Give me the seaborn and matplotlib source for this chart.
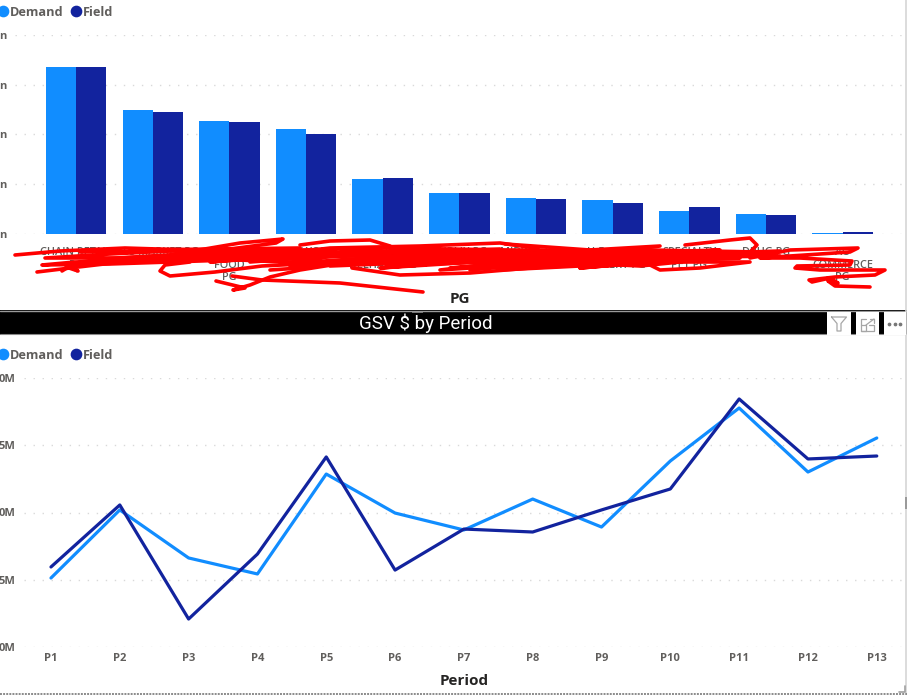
import matplotlib
matplotlib.use("Agg")
import matplotlib.pyplot as plt
from matplotlib.lines import Line2D
from matplotlib.patches import Rectangle
import pandas as pd
import seaborn as sns

# ---- data ----
pg_labels = ["CHAIN RETAIL\nPG", "MASS MARKET PG", "KROGER\nFOOD\nPG", "NEW YORK\nPG",
             "AHOLD\nDELHAIZE PG", "PUBLIX PG", "MIDWEST MM", "H.E. BUTT\nGROCERY PG",
             "SPECIALTY\nPET PG", "DRUG PG", "AO\nCOMMERCE\nPG"]
pg_demand = [167.4, 124.0, 113.0, 104.9, 55.2, 40.4, 35.3, 33.3, 22.5, 19.5, 1.0]
pg_field = [168.1, 122.7, 112.3, 100.5, 55.5, 41.0, 35.0, 30.9, 26.9, 18.5, 1.4]
pg_ticks = [0, 50, 100, 150, 200]
pg_ticklabels = ["n", "n", "n", "n", "n"]

periods = ["P1", "P2", "P3", "P4", "P5", "P6", "P7", "P8", "P9", "P10", "P11", "P12", "P13"]
period_demand = [15.13, 20.19, 16.62, 15.43, 22.86, 19.96, 18.70, 21.00, 18.92, 23.83, 27.77, 23.01, 25.54]
period_field = [15.95, 20.56, 12.08, 16.91, 24.13, 15.72, 18.77, 18.55, 20.19, 21.75, 28.44, 23.98, 24.20]
period_ticks = [10, 15, 20, 25, 30]
period_ticklabels = ["0M", "5M", "0M", "5M", "0M"]

series_names = ["Demand", "Field"]
series_colors = ["#118DFF", "#12239E"]
chart_title = "GSV $ by Period"

# ---- styles ----
W, H = 907, 695
sns.set_theme(style="white")
plt.rcParams["font.family"] = ["Open Sans", "DejaVu Sans"]
TICK = "#605E5C"
TITLE = "#252423"
GRID = "#D9D9D9"
palette = dict(zip(series_names, series_colors))


def axes_rect(x0, y0, x1, y1):
    return [x0 / W, 1 - y1 / H, (x1 - x0) / W, (y1 - y0) / H]


fig = plt.figure(figsize=(W / 100, H / 100), dpi=100, facecolor="white")

# ---- top panel ----
ax_top = fig.add_axes(axes_rect(14.8, 35, 904.8, 233.5))
df_pg = pd.DataFrame({
    "PG": pg_labels * 2,
    "Series": [series_names[0]] * len(pg_labels) + [series_names[1]] * len(pg_labels),
    "Value": pg_demand + pg_field,
})
sns.barplot(data=df_pg, x="PG", y="Value", hue="Series", palette=palette, hue_order=series_names,
            width=0.79, gap=0, saturation=1, errorbar=None, legend=False, linewidth=0, ax=ax_top, zorder=3)
ax_top.set_xlim(-0.80, 10.81)
ax_top.set_ylim(0, 200)
ax_top.set_yticks(pg_ticks, pg_ticklabels)
ax_top.tick_params(axis="y", length=0, pad=5.8, labelsize=8, labelcolor=TICK)
ax_top.tick_params(axis="x", length=0, pad=10, labelsize=7.8, labelcolor=TICK)
for t in ax_top.get_yticklabels():
    t.set_fontweight("bold")
for t in ax_top.get_xticklabels():
    t.set_fontweight("semibold")
    t.set_linespacing(1.18)
ax_top.set_ylabel("")
ax_top.set_xlabel("PG", fontsize=11, fontweight="bold", color=TITLE, va="center")
ax_top.xaxis.set_label_coords(0.5, -(299 - 233.5) / 198.5)

# ---- bottom panel ----
ax_low = fig.add_axes(axes_rect(24, 378, 905, 647))
df_period = pd.DataFrame({
    "Period": periods * 2,
    "Series": [series_names[0]] * len(periods) + [series_names[1]] * len(periods),
    "Value": period_demand + period_field,
})
sns.lineplot(data=df_period, x="Period", y="Value", hue="Series", palette=palette, hue_order=series_names,
             sort=False, errorbar=None, legend=False, linewidth=2.3, ax=ax_low, zorder=3)
ax_low.set_xlim(-0.392, 12.41)
ax_low.set_ylim(10, 30)
ax_low.set_yticks(period_ticks, period_ticklabels)
ax_low.tick_params(axis="y", length=0, pad=6.2, labelsize=8, labelcolor=TICK)
ax_low.tick_params(axis="x", length=0, pad=4.5, labelsize=8, labelcolor=TICK)
for t in ax_low.get_yticklabels() + ax_low.get_xticklabels():
    t.set_fontweight("bold")
ax_low.set_ylabel("")
ax_low.set_xlabel("Period", fontsize=11, fontweight="bold", color=TITLE, va="center")
ax_low.xaxis.set_label_coords(0.5, -(681 - 647) / 269)

for ax in (ax_top, ax_low):
    sns.despine(ax=ax, left=True, bottom=True, top=True, right=True)
    ax.set_axisbelow(True)
    ax.yaxis.grid(True, color=GRID, linewidth=1.0, linestyle=(0, (1, 5.5)))
    ax.xaxis.grid(False)
    ax.patch.set_alpha(0)

# ---- legends ----
for ax, centre_y in ((ax_top, 12), (ax_low, 355)):
    handles = [Line2D([], [], linestyle="none", marker="o", markersize=7.4, color=c, label=n)
               for n, c in zip(series_names, series_colors)]
    leg = ax.legend(handles=handles, ncol=2, frameon=False, loc="center left",
                    bbox_to_anchor=(-2.5 / W, 1 - centre_y / H), bbox_transform=fig.transFigure,
                    borderpad=0, borderaxespad=0, handlelength=0.85, handletextpad=0.1,
                    columnspacing=0.6, prop={"family": "Open Sans", "weight": "bold", "size": 9.2})
    for t in leg.get_texts():
        t.set_color(TICK)

# ---- screenshot chrome and redaction, drawn in pixel coordinates ----
ov = fig.add_axes([0, 0, 1, 1], zorder=10)
ov.set_xlim(0, W)
ov.set_ylim(H, 0)
ov.axis("off")
ov.patch.set_alpha(0)

ov.add_patch(Rectangle((0, 310), W, 24.5, facecolor="#000000", edgecolor="none"))
ov.plot([0, W], [310.5, 310.5], color="#9A9A9A", lw=1)
ov.plot([0, W], [334.3, 334.3], color="#8A8A8A", lw=0.8)
ov.add_patch(Rectangle((412, 311.5), 11, 1.5, facecolor="#777777", edgecolor="none", zorder=5))
for x0, x1 in ((827, 851), (856, 879), (884, 906)):
    ov.add_patch(Rectangle((x0, 311.5), x1 - x0, 23, facecolor="white", edgecolor="none", zorder=4))
ov.text(426, 323.5, chart_title, color="white", fontsize=13.5, family="Roboto", ha="center", va="center")
ICON = "#A6A6A6"
ov.plot([831.5, 846.5, 841, 841, 837, 837, 831.5], [317, 317, 323.5, 331, 331, 323.5, 317],
        color=ICON, lw=0.9, zorder=6)
ov.plot([866, 860.5, 860.5, 874, 874, 869], [319, 319, 331, 331, 325, 325], color=ICON, lw=0.9, zorder=6)
ov.plot([860.5, 866, 866, 860.5], [325, 325, 331, 331], color=ICON, lw=0.9, zorder=6)
ov.plot([866, 874], [325, 319], color=ICON, lw=0.9, zorder=6)
ov.plot([870, 874, 874], [319, 319, 323], color=ICON, lw=0.9, zorder=6)
ov.plot([889, 894.5, 900], [323.5, 323.5, 323.5], linestyle="none", marker="o", markersize=1.7, color="#777777", zorder=6)

ov.plot([906, 906], [0, 695], color="#D6D6D6", lw=1.2)
ov.add_patch(Rectangle((904.5, 497), 2.5, 11.5, facecolor="#9A9A9A", edgecolor="none", zorder=5))
ov.plot([0, W], [693.5, 693.5], color="#8A8A8A", lw=1.4, linestyle=(0, (1, 0.6)))
ov.plot([899, 905, 905], [692, 692, 686], color="#A0A0A0", lw=1.2)

scribbles = [
    [(15, 255), (60, 251), (125, 248), (190, 250), (110, 254), (45, 258), (120, 258), (190, 255), (270, 254),
     (180, 259), (75, 262), (42, 265), (110, 264), (200, 261), (290, 258), (390, 254), (300, 252), (210, 255)],
    [(37, 272), (70, 268), (130, 261), (200, 258), (280, 262), (360, 262), (470, 258), (600, 256), (760, 252)],
    [(62, 271), (70, 266), (78, 271), (66, 267)],
    [(193, 251), (240, 243), (283, 239), (276, 243), (230, 249), (200, 252), (300, 250), (390, 248), (510, 250),
     (640, 250), (780, 256), (640, 258), (480, 256), (340, 256), (220, 258)],
    [(190, 262), (165, 265), (160, 271), (170, 276), (215, 272), (262, 266), (340, 262), (450, 260), (560, 258), (650, 259)],
    [(216, 281), (245, 288), (233, 290), (250, 285), (270, 277), (300, 270), (350, 262), (440, 262), (530, 262)],
    [(232, 276), (262, 280), (340, 283), (423, 292)],
    [(300, 245), (330, 241), (370, 240), (390, 246), (398, 252), (350, 256), (300, 258)],
    [(270, 255), (330, 248), (420, 246), (500, 243), (535, 248), (548, 255), (470, 255), (345, 262), (300, 268), (270, 270)],
    [(352, 268), (400, 275), (470, 273), (530, 268), (600, 264), (640, 266), (700, 260), (740, 258), (640, 254), (530, 253), (420, 258)],
    [(470, 270), (560, 262), (640, 262), (610, 258), (700, 254), (760, 252), (650, 250), (560, 252)],
    [(505, 244), (590, 250), (660, 246), (600, 254), (540, 260)],
    [(650, 265), (660, 270), (700, 268), (750, 262), (650, 262)],
    [(685, 245), (730, 240), (750, 238), (757, 245), (750, 252), (720, 258), (640, 260)],
    [(750, 258), (790, 250), (858, 248), (850, 252), (790, 256), (760, 258), (800, 258), (852, 261), (850, 265), (797, 266),
     (795, 268), (820, 270), (885, 270), (875, 275), (835, 277), (809, 280), (812, 282), (830, 278), (838, 283),
     (828, 281), (835, 286), (870, 287)],
    # dense fill of the main band
    [(130, 250), (300, 248), (190, 253), (320, 251), (230, 257), (420, 250), (300, 256), (500, 249), (360, 260),
     (560, 253), (400, 265), (600, 258), (450, 268), (650, 255), (500, 266), (700, 256), (560, 263), (745, 255),
     (640, 261), (770, 253)],
    [(250, 262), (330, 256), (290, 266), (400, 258), (330, 266), (480, 260), (380, 268), (540, 258), (440, 270),
     (590, 260), (500, 270), (640, 263), (580, 268), (700, 258)],
    [(80, 252), (250, 250), (100, 259), (260, 256), (140, 262), (300, 254), (210, 262), (350, 252), (280, 264),
     (440, 253), (340, 252), (520, 252), (430, 254), (610, 252), (520, 256), (720, 250), (620, 256), (780, 251)],
]
for stroke in scribbles:
    xs, ys = zip(*stroke)
    ov.plot(xs, ys, color="#FF0000", lw=2.6, solid_capstyle="round", solid_joinstyle="round", zorder=8)

fig.savefig("out.png", dpi=100, facecolor="white")
